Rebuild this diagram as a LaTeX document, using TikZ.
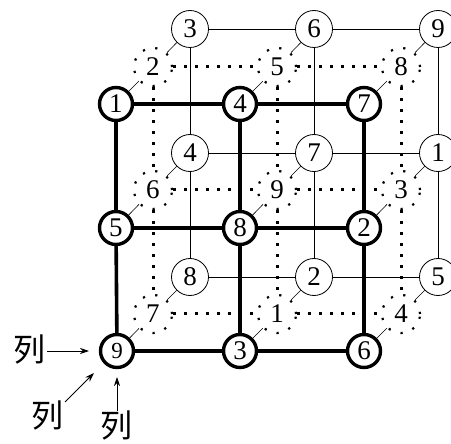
\documentclass[tikz,border=0pt]{standalone}
\usepackage{fontspec}
\setmainfont{Liberation Serif}
\newfontfamily\cjkfont{Noto Sans CJK SC}
\newfontfamily\digitfont{Liberation Serif}
\usetikzlibrary{arrows.meta}
\begin{document}
\begin{tikzpicture}[x=1pt,y=-1pt,
  num/.style={circle,inner sep=0pt,font=\digitfont\fontsize{27pt}{27pt}\selectfont},
  front/.style={num,draw,line width=3.4pt,minimum size=33pt,fill=white},
  back/.style={num,draw,line width=0.8pt,minimum size=37pt,fill=white},
  mid/.style={num,draw,line width=2.2pt,dash pattern=on 2.2pt off 10.5pt,minimum size=38pt},
  fline/.style={line width=3.6pt},
  mline/.style={line width=3pt,dash pattern=on 3pt off 8pt},
  bline/.style={line width=0.9pt},
  link/.style={line width=0.6pt},
  lab/.style={font=\cjkfont\fontsize{32pt}{32pt}\selectfont,inner sep=0pt},
  arr/.style={line width=0.8pt,-{Stealth[length=9pt,width=6pt]}}
]
\useasboundingbox (0,0) rectangle (451,444);
% back layer
\node[back] (b11) at (190,29) {3};
\node[back] (b12) at (314,29) {6};
\node[back] (b13) at (438,29) {9};
\node[back] (b21) at (190,153) {4};
\node[back] (b22) at (314,153) {7};
\node[back] (b23) at (438,153) {1};
\node[back] (b31) at (190,277) {8};
\node[back] (b32) at (314,277) {2};
\node[back] (b33) at (438,277) {5};
\foreach \r in {1,2,3} {
  \draw[bline] (b\r1) -- (b\r2);
  \draw[bline] (b\r2) -- (b\r3);
  \draw[bline] (b1\r) -- (b2\r);
  \draw[bline] (b2\r) -- (b3\r);
}
% middle layer
\node[mid] (m11) at (153,67) {2};
\node[mid] (m12) at (277,67) {5};
\node[mid] (m13) at (401,67) {8};
\node[mid] (m21) at (153,190) {6};
\node[mid] (m22) at (277,190) {9};
\node[mid] (m23) at (401,190) {3};
\node[mid] (m31) at (153,314) {7};
\node[mid] (m32) at (277,314) {1};
\node[mid] (m33) at (401,314) {4};
\foreach \r in {1,2,3} {
  \draw[mline] (m\r1) -- (m\r2);
  \draw[mline] (m\r2) -- (m\r3);
  \draw[mline] (m1\r) -- (m2\r);
  \draw[mline] (m2\r) -- (m3\r);
}
% front layer
\node[front] (f11) at (116,104) {1};
\node[front] (f12) at (240,104) {4};
\node[front] (f13) at (364,104) {7};
\node[front] (f21) at (116,228) {5};
\node[front] (f22) at (240,228) {8};
\node[front] (f23) at (364,228) {2};
\node[front,font=\digitfont\fontsize{23pt}{23pt}\selectfont] (f31) at (117,351) {9};
\node[front] (f32) at (240,351) {3};
\node[front] (f33) at (364,351) {6};
\foreach \r in {1,2,3} {
  \draw[fline] (f\r1) -- (f\r2);
  \draw[fline] (f\r2) -- (f\r3);
  \draw[fline] (f1\r) -- (f2\r);
  \draw[fline] (f2\r) -- (f3\r);
}
% depth links
\foreach \r in {1,2,3} {
  \foreach \c in {1,2,3} {
    \draw[link] (f\r\c) -- (m\r\c);
    \draw[link] (m\r\c) -- (b\r\c);
  }
}
% labels and arrows
\node[lab] (l1) at (29,350) {列};
\node[lab] (l2) at (47,416) {列};
\node[lab] (l3) at (116,426) {列};
\coordinate (h1) at (89,351);
\coordinate (h2) at (94,373);
\coordinate (h3) at (117,377);
\coordinate (t1) at (47,351);
\coordinate (t2) at (65,402);
\coordinate (t3) at (117,411);
\draw[arr] (t1) -- (h1);
\draw[arr] (t2) -- (h2);
\draw[arr] (t3) -- (h3);
\end{tikzpicture}
\end{document}
